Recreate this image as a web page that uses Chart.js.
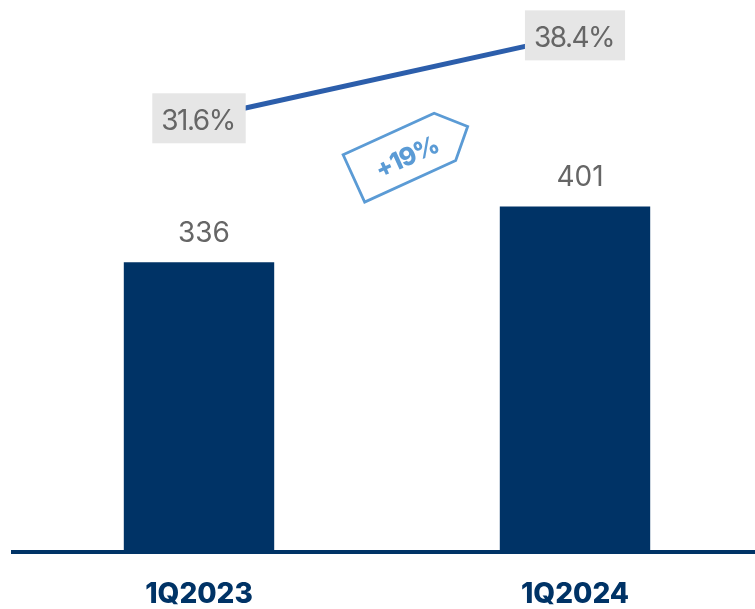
<!DOCTYPE html>
<html><head><meta charset="utf-8">
<script src="https://cdn.jsdelivr.net/npm/chart.js@4.4.1/dist/chart.umd.min.js"></script>
<style>html,body{margin:0;padding:0;overflow:hidden;background:#fff;width:755px;height:609px}canvas{display:block}</style>
</head><body>
<canvas id="c" width="763" height="609"></canvas>
<script>
// ---- data ----
const categories = ['1Q2023', '1Q2024'];
const revenue = [336, 401];
const revenueLabels = ['336', '401'];
const marginPct = [31.6, 38.4];
const marginLabels = ['31.6%', '38.4%'];
const growthLabel = '+19%';
// annotation anchor in chart units (category index, y value)
const tagAnchor = { x: 0.533, y: 458 };
const yRange = { min: 0, max: 642 };
const y2Range = { min: -3.8, max: 41.3 };

const NAVY = '#003366';
const LINE = '#2C5EAB';
const GRAY = '#666666';
const BOX = '#E6E6E6';
const TAG = '#5B9BD5';

const overlay = {
  id: 'overlay',
  afterDatasetsDraw(chart) {
    const ctx = chart.ctx, xs = chart.scales.x, ys = chart.scales.y;
    const area = chart.chartArea;
    ctx.save();
    // baseline
    const y0 = ys.getPixelForValue(0);
    ctx.fillStyle = NAVY;
    ctx.fillRect(area.left, y0, chart.width - area.left, 4);
    // bar value labels
    ctx.font = '28px Inter';
    ctx.textAlign = 'center';
    ctx.textBaseline = 'alphabetic';
    ctx.fillStyle = GRAY;
    chart.getDatasetMeta(0).data.forEach((bar, i) => {
      ctx.fillText(revenueLabels[i], bar.x + 5, bar.y - 20);
    });
    // line labels in boxes
    ctx.letterSpacing = '-1.5px';
    chart.getDatasetMeta(1).data.forEach((pt, i) => {
      const tw = ctx.measureText(marginLabels[i]).width;
      const w = tw + 20;
      ctx.fillStyle = BOX;
      ctx.fillRect(pt.x - w / 2, pt.y - 25, w, 50);
      ctx.fillStyle = GRAY;
      ctx.fillText(marginLabels[i], pt.x - 1, pt.y + 12);
    });
    ctx.letterSpacing = '0px';
    // growth tag
    const cx = xs.getPixelForValue(tagAnchor.x), cy = ys.getPixelForValue(tagAnchor.y);
    ctx.translate(cx, cy);
    ctx.rotate(-24.5 * Math.PI / 180);
    ctx.strokeStyle = TAG;
    ctx.lineWidth = 2.8;
    ctx.lineJoin = 'miter';
    ctx.beginPath();
    ctx.moveTo(-50, -26); ctx.lineTo(50, -26); ctx.lineTo(75, 0);
    ctx.lineTo(50, 26); ctx.lineTo(-50, 26); ctx.closePath();
    ctx.stroke();
    ctx.fillStyle = TAG;
    ctx.font = '800 25px Inter';
    ctx.letterSpacing = '-1px';
    ctx.fillText(growthLabel, 7, 11);
    ctx.restore();
  }
};

new Chart(document.getElementById('c'), {
  data: {
    labels: categories,
    datasets: [
      { type: 'bar', data: revenue, backgroundColor: NAVY, barPercentage: 0.4, categoryPercentage: 1, yAxisID: 'y', order: 2 },
      { type: 'line', data: marginPct, borderColor: LINE, borderWidth: 5, pointRadius: 0, yAxisID: 'y2', order: 1, borderCapStyle: 'butt' }
    ]
  },
  options: {
    responsive: false,
    animation: false,
    layout: { padding: { left: 11, right: 0, top: 0, bottom: 0 } },
    plugins: { legend: { display: false }, tooltip: { enabled: false } },
    scales: {
      x: {
        grid: { display: false, drawTicks: false },
        border: { display: false },
        ticks: { color: NAVY, font: { family: 'Inter', size: 28, weight: 800 }, padding: 28 },
        afterFit: s => { s.height = 59; }
      },
      y: { display: false, min: yRange.min, max: yRange.max },
      y2: { display: false, min: y2Range.min, max: y2Range.max }
    }
  },
  plugins: [overlay]
});
</script>
</body></html>
